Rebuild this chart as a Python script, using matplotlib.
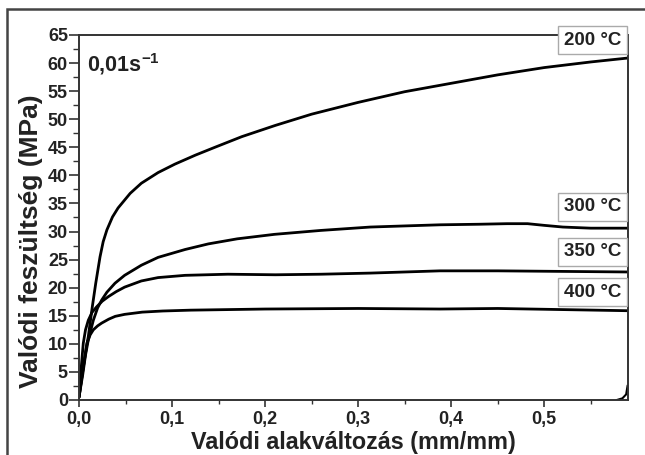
import matplotlib
matplotlib.use("Agg")
import matplotlib.pyplot as plt
from matplotlib.ticker import MultipleLocator, FuncFormatter
from matplotlib.patches import Rectangle

plt.rcParams['font.family'] = ['Liberation Sans', 'DejaVu Sans']
plt.rcParams['font.weight'] = 'bold'
plt.rcParams['mathtext.fontset'] = 'custom'
plt.rcParams['mathtext.rm'] = 'Liberation Sans:bold'
plt.rcParams['mathtext.it'] = 'Liberation Sans:bold'
plt.rcParams['mathtext.bf'] = 'Liberation Sans:bold'

# true strain (mm/mm) / true stress (MPa)
x_200 = [0, 0.0046, 0.008, 0.010, 0.0143, 0.018, 0.0226, 0.026, 0.030, 0.036, 0.042, 0.055,
         0.067, 0.085, 0.103, 0.125, 0.146, 0.175, 0.211, 0.25, 0.30, 0.35, 0.40, 0.45,
         0.50, 0.55, 0.59]
y_200 = [0.5, 5.9, 9.5, 11.3, 16.6, 20.8, 25.5, 28.2, 30.3, 32.6, 34.2, 36.8,
         38.6, 40.5, 42.0, 43.6, 45.0, 46.9, 48.9, 50.9, 53.0, 54.9, 56.4, 57.9,
         59.2, 60.2, 60.9]

x_300 = [0, 0.004, 0.007, 0.010, 0.0154, 0.020, 0.0244, 0.030, 0.0387, 0.049, 0.067, 0.085,
         0.114, 0.139, 0.17, 0.21, 0.26, 0.313, 0.35, 0.388, 0.43, 0.46, 0.482, 0.50,
         0.52, 0.55, 0.59]
y_300 = [0.5, 4.5, 8.0, 10.7, 14.2, 16.4, 17.8, 19.2, 20.8, 22.2, 24.0, 25.4,
         26.8, 27.8, 28.7, 29.5, 30.2, 30.8, 31.0, 31.2, 31.3, 31.4, 31.4, 31.1,
         30.8, 30.6, 30.6]

x_350 = [0, 0.002, 0.0046, 0.007, 0.010, 0.014, 0.019, 0.025, 0.0315, 0.040, 0.049, 0.067,
         0.085, 0.114, 0.16, 0.211, 0.26, 0.313, 0.388, 0.45, 0.52, 0.59]
y_350 = [0.5, 5, 10.1, 12.5, 14.2, 15.6, 16.6, 17.6, 18.4, 19.3, 20.1, 21.2,
         21.8, 22.2, 22.4, 22.3, 22.4, 22.6, 23.0, 23.0, 22.9, 22.8]

x_400 = [0, 0.003, 0.0086, 0.012, 0.0154, 0.020, 0.0244, 0.032, 0.039, 0.049, 0.068, 0.09,
         0.12, 0.2, 0.3, 0.388, 0.45, 0.52, 0.59]
y_400 = [0.5, 4, 10.1, 11.6, 12.5, 13.2, 13.7, 14.4, 14.9, 15.25, 15.65, 15.85,
         16.0, 16.2, 16.3, 16.2, 16.3, 16.1, 15.9]

# unloading tail in the lower right corner
x_tail = [0.578, 0.584, 0.588, 0.5895]
y_tail = [0, 0.3, 1.0, 2.5]

curves = [(x_200, y_200), (x_300, y_300), (x_350, y_350), (x_400, y_400)]
labels = ['200 °C', '300 °C', '350 °C', '400 °C']
label_y = [64.1, 34.4, 26.4, 19.2]

fig = plt.figure(figsize=(6.45, 4.55), dpi=100)
ax = fig.add_axes([79 / 645, 55 / 455, 549 / 645, 365 / 455])

for xs, ys in curves:
    ax.plot(xs, ys, color='black', lw=2.0, solid_capstyle='round', solid_joinstyle='round')
ax.plot(x_tail, y_tail, color='black', lw=1.5)

ax.set_xlim(0, 0.59)
ax.set_ylim(0, 65)

ax.xaxis.set_major_locator(MultipleLocator(0.1))
ax.xaxis.set_minor_locator(MultipleLocator(0.05))
ax.yaxis.set_major_locator(MultipleLocator(5))
ax.yaxis.set_minor_locator(MultipleLocator(2.5))
ax.xaxis.set_major_formatter(FuncFormatter(lambda v, p: f'{v:.1f}'.replace('.', ',')))
ax.yaxis.set_major_formatter(FuncFormatter(lambda v, p: f'{v:.0f}'))

ax.tick_params(axis='both', which='both', direction='out', color='#333333',
               labelsize=13, labelcolor='#222222')
ax.tick_params(axis='x', which='major', length=5, width=1.2, pad=3)
ax.tick_params(axis='x', which='minor', length=3, width=1.0)
ax.tick_params(axis='y', which='major', length=7, width=1.2, pad=1)
ax.tick_params(axis='y', which='minor', length=4, width=1.0)
for s in ax.spines.values():
    s.set_color('#333333')
    s.set_linewidth(1.4)

ax.set_xlabel('Valódi alakváltozás (mm/mm)', fontsize=16.8, fontweight='bold', color='#222222')
ax.set_ylabel('Valódi feszültség (MPa)', fontsize=19, fontweight='bold', color='#222222')
ax.xaxis.set_label_coords(0.5, -0.085)
ax.yaxis.set_label_coords(-0.066, 0.436)

ax.text(0.014, 0.955, r'0,01s$^{-1}$', transform=ax.transAxes, fontsize=15.5,
        color='#222222', ha='left', va='top')

for lab, ly in zip(labels, label_y):
    ax.annotate(lab, xy=(0.59, ly), xytext=(-5, 0), textcoords='offset points',
                ha='right', va='center', fontsize=13.5, fontweight='bold', color='#222222',
                annotation_clip=False, zorder=5,
                bbox=dict(boxstyle='square,pad=0.3', fc='white', ec='#aaaaaa', lw=1.0))

# outer frame of the figure
fig.patches.append(Rectangle((7 / 645, -0.1), 1.2, 1 - 9 / 455 + 0.1, transform=fig.transFigure,
                             fill=False, ec='#444444', lw=1.8))

fig.savefig('out.png', dpi=100)
